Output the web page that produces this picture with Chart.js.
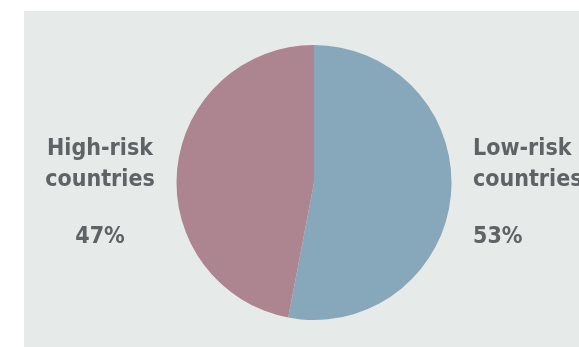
<!DOCTYPE html>
<html>
<head>
<meta charset="utf-8">
<script src="https://cdn.jsdelivr.net/npm/chart.js@4"></script>
<style>
  html, body { margin: 0; padding: 0; background: #fff; }
  canvas { display: block; }
</style>
</head>
<body>
<canvas id="chart" width="579" height="347"></canvas>
<script>
const categories = ['Low-risk countries', 'High-risk countries'];
const shares = [53, 47];
const labelLines = [['Low-risk', 'countries'], ['High-risk', 'countries']];
const sliceColors = ['#87a7bb', '#ac8591'];

const panelAndLabels = {
  id: 'panelAndLabels',
  beforeDraw(chart) {
    const ctx = chart.ctx;
    ctx.save();
    ctx.fillStyle = '#e6eae9';
    ctx.fillRect(24, 11, chart.width - 24, chart.height - 11);
    ctx.restore();
  },
  afterDraw(chart) {
    const ctx = chart.ctx;
    ctx.save();
    ctx.fillStyle = '#5e6366';
    ctx.font = 'bold 23px "DejaVu Sans Condensed", "DejaVu Sans", sans-serif';
    ctx.textBaseline = 'alphabetic';
    // right side: low-risk, left aligned
    ctx.textAlign = 'left';
    ctx.fillText(labelLines[0][0], 473, 155);
    ctx.fillText(labelLines[0][1], 473, 186);
    ctx.fillText(shares[0] + '%', 473, 243);
    // left side: high-risk, centred
    ctx.textAlign = 'center';
    ctx.fillText(labelLines[1][0], 100, 155);
    ctx.fillText(labelLines[1][1], 100, 186);
    ctx.fillText(shares[1] + '%', 100, 243);
    ctx.restore();
  }
};

new Chart(document.getElementById('chart'), {
  type: 'pie',
  data: {
    labels: categories,
    datasets: [{
      data: shares,
      backgroundColor: sliceColors,
      borderWidth: 0
    }]
  },
  options: {
    responsive: false,
    animation: false,
    layout: { padding: { top: 45, bottom: 27, left: 176.5, right: 127.5 } },
    plugins: {
      legend: { display: false },
      tooltip: { enabled: false }
    }
  },
  plugins: [panelAndLabels]
});
</script>
</body>
</html>
